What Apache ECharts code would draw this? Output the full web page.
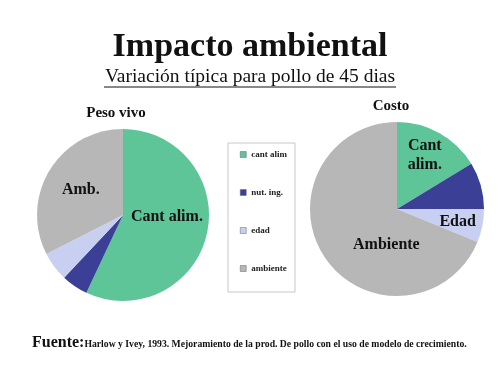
<!DOCTYPE html>
<html>
<head>
<meta charset="utf-8">
<script src="https://cdn.jsdelivr.net/npm/echarts@6/dist/echarts.min.js"></script>
<style>
  html, body { margin: 0; padding: 0; background: #fff; }
  #chart { width: 500px; height: 375px; }
</style>
</head>
<body>
<div id="chart"></div>
<script>
// datos (porcentajes aproximados)
const categories = ['cant alim', 'nut. ing.', 'edad', 'ambiente'];
const pesoVivo = [57, 5, 5.5, 32.5];
const costo = [16.3, 8.7, 6.2, 68.8];
const pesoLabels = ['Cant alim.', '', '', 'Amb.'];
const costoLabels = ['Cant\nalim.', '', 'Edad', 'Ambiente'];
const colors = ['#5dc597', '#3b4096', '#c9cff0', '#b7b7b7'];

// desplazamiento de las etiquetas dentro de cada torta
const labelShift = [
  [[-1, -8], [0, 0], [0, 0], [-3, -1]],
  [[5, -13], [0, 0], [15, 4], [28, 10]]
];

const serif = '"Liberation Serif", "DejaVu Serif", serif';

const toData = (values, labels) => values.map((v, i) => ({
  name: categories[i],
  value: v,
  label: { show: labels[i] !== '', formatter: labels[i] }
}));

const chart = echarts.init(document.getElementById('chart'));

const pieBase = {
  type: 'pie',
  startAngle: 90,
  clockwise: true,
  silent: true,
  emphasis: { disabled: true },
  labelLine: { show: false },
  label: {
    position: 'inside',
    color: '#111',
    fontFamily: serif,
    fontWeight: 'bold',
    fontSize: 16,
    lineHeight: 19
  },
  labelLayout: function (p) {
    const s = labelShift[p.seriesIndex][p.dataIndex];
    return { dx: s[0], dy: s[1] };
  }
};

const option = {
  color: colors,
  animation: false,
  legend: {
    orient: 'vertical',
    left: 228,
    top: 143,
    data: categories,
    itemWidth: 6,
    itemHeight: 6,
    itemGap: 29,
    padding: [7, 8, 19, 12],
    borderColor: '#c8c8c8',
    borderWidth: 1,
    icon: 'rect',
    itemStyle: { borderColor: '#666', borderWidth: 0.5 },
    textStyle: { fontFamily: serif, fontWeight: 'bold', fontSize: 9, color: '#222' }
  },
  graphic: [
    {
      type: 'text', left: 'center', top: 30,
      style: { text: 'Impacto ambiental', font: 'bold 34px ' + serif, fill: '#111' }
    },
    {
      type: 'text', left: 'center', top: 67,
      style: { text: 'Variación típica para pollo de 45 dias', font: '19.5px ' + serif, fill: '#111' }
    },
    {
      type: 'line', shape: { x1: 104, y1: 87, x2: 396, y2: 87 },
      style: { stroke: '#111', lineWidth: 1 }
    },
    {
      type: 'text', x: 116, y: 113,
      style: { text: 'Peso vivo', font: 'bold 15px ' + serif, fill: '#111', align: 'center', verticalAlign: 'middle' }
    },
    {
      type: 'text', x: 391, y: 106,
      style: { text: 'Costo', font: 'bold 15px ' + serif, fill: '#111', align: 'center', verticalAlign: 'middle' }
    },
    {
      type: 'text', x: 32, y: 343,
      style: {
        text: '{a|Fuente:}{b|Harlow y Ivey, 1993. Mejoramiento de la prod. De pollo con el uso de modelo de crecimiento.}',
        verticalAlign: 'middle',
        rich: {
          a: { font: 'bold 16px ' + serif, fill: '#111', verticalAlign: 'bottom' },
          b: { font: 'bold 9.7px ' + serif, fill: '#111', verticalAlign: 'bottom', padding: [0, 0, 2, 0] }
        }
      }
    }
  ],
  series: [
    Object.assign({}, pieBase, {
      name: 'Peso vivo',
      center: [123, 215],
      radius: 86,
      data: toData(pesoVivo, pesoLabels)
    }),
    Object.assign({}, pieBase, {
      name: 'Costo',
      center: [397, 209],
      radius: 87,
      data: toData(costo, costoLabels)
    })
  ]
};

chart.setOption(option);
</script>
</body>
</html>
